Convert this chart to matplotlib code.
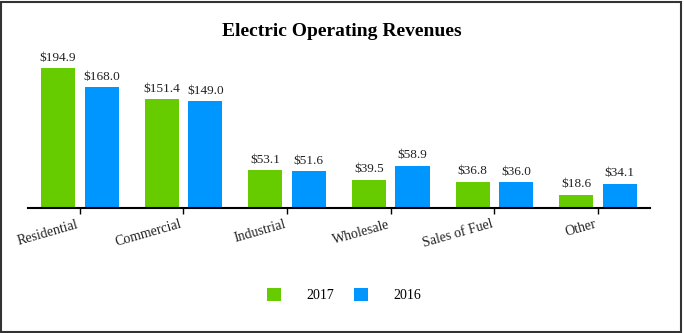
import matplotlib.pyplot as plt
import numpy as np
from matplotlib.patches import Rectangle

categories = ['Residential', 'Commercial', 'Industrial', 'Wholesale', 'Sales of Fuel', 'Other']
rev_2017 = [194.9, 151.4, 53.1, 39.5, 36.8, 18.6]
rev_2016 = [168.0, 149.0, 51.6, 58.9, 36.0, 34.1]

green = '#66CC00'
blue = '#0096FF'

plt.rcParams['font.family'] = ['Liberation Serif', 'DejaVu Serif']

fig = plt.figure(figsize=(6.84, 3.33), dpi=100)
ax = fig.add_axes([0.041, 0.375, 0.909, 0.432])

x = np.arange(len(categories))
w = 0.33
off = 0.21
b1 = ax.bar(x - off, rev_2017, w, color=green, label='2017')
b2 = ax.bar(x + off, rev_2016, w, color=blue, label='2016')

for bars, vals in ((b1, rev_2017), (b2, rev_2016)):
    for r, v in zip(bars, vals):
        ax.text(r.get_x() + r.get_width() / 2, v + 6, '$%.1f' % v,
                ha='center', va='bottom', fontsize=9.5, color='#222222')

ax.set_xlim(-0.5, len(categories) - 0.5)
ax.set_ylim(0, 200)
ax.set_yticks([])
for s in ('top', 'right', 'left'):
    ax.spines[s].set_visible(False)
ax.spines['bottom'].set_linewidth(1.5)
ax.set_xticks(x)
ax.set_xticklabels(categories, rotation=16, ha='right', fontsize=10, color='#222222')
ax.tick_params(axis='x', length=4, width=1, pad=3)

fig.text(0.5, 0.905, 'Electric Operating Revenues', ha='center', va='center',
         fontsize=14, fontweight='bold')

# legend squares along the bottom
fig.legend(handles=[b1, b2], loc='center', bbox_to_anchor=(0.503, 0.113), ncol=2,
           frameon=False, fontsize=10, handlelength=1.0, handleheight=1.0,
           handletextpad=1.8, columnspacing=1.5)

fig.patches.append(Rectangle((0.002, 0.003), 0.994, 0.992, transform=fig.transFigure,
                             fill=False, edgecolor='#333333', linewidth=1.5))

fig.savefig('out.png', dpi=100)
